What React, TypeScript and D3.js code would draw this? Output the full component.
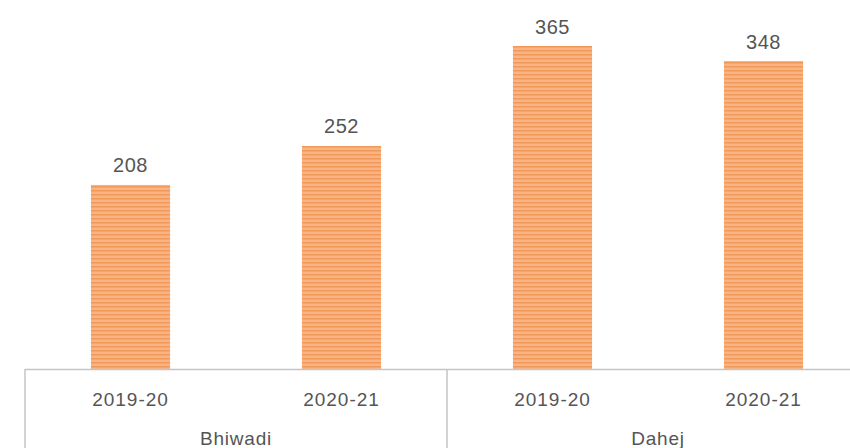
import React from "react";
import * as d3 from "d3";

const groups = ["Bhiwadi", "Dahej"];
const years = ["2019-20", "2020-21"];
const values = [208, 252, 365, 348];
const categories = groups.flatMap((g) => years.map((y) => `${g}|${y}`));

const W = 850;
const H = 448;

export default function App() {
  const x = d3.scaleBand<string>().domain(categories).range([25, 869]).paddingInner(0.625).paddingOuter(0.3125);
  const y = d3.scaleLinear().domain([0, 365]).range([369, 46]);
  const groupW = x.step() * years.length;
  const x0 = 25;
  const font = "'Liberation Sans', Arial, Helvetica, sans-serif";
  const txt = "#555";
  return (
    <div style={{ position: "absolute", left: 0, top: 0 }}>
      <svg width={W} height={H} style={{ display: "block", background: "#fff" }}>
        <defs>
          <pattern id="stripes" width="4" height="4" patternUnits="userSpaceOnUse">
            <rect width="4" height="4" fill="#F8B485" />
            <rect y="2" width="4" height="1.5" fill="#F09858" />
          </pattern>
        </defs>
        {values.map((v, i) => (
          <g key={i}>
            <rect x={x(categories[i])} y={y(v)} width={x.bandwidth()} height={y(0) - y(v)} fill="url(#stripes)" />
            <text x={(x(categories[i]) || 0) + x.bandwidth() / 2} y={y(v) - 12.5} textAnchor="middle" fontFamily={font} fontSize={20} letterSpacing={0.5} fill={txt}>
              {v}
            </text>
          </g>
        ))}
        <line x1={x0} x2={W} y1={369.5} y2={369.5} stroke="#c4c4c4" strokeWidth={1.5} />
        {groups.map((g, gi) => (
          <line key={g} x1={x0 + gi * groupW} x2={x0 + gi * groupW} y1={369} y2={H} stroke="#c4c4c4" strokeWidth={1.5} />
        ))}
        {categories.map((c) => (
          <text key={c} x={(x(c) || 0) + x.bandwidth() / 2} y={406} textAnchor="middle" fontFamily={font} fontSize={19} letterSpacing={1} fill={txt}>
            {c.split("|")[1]}
          </text>
        ))}
        {groups.map((g, gi) => (
          <text key={g} x={x0 + gi * groupW + groupW / 2} y={445} textAnchor="middle" fontFamily={font} fontSize={19} letterSpacing={0.8} fill={txt}>
            {g}
          </text>
        ))}
      </svg>
    </div>
  );
}
